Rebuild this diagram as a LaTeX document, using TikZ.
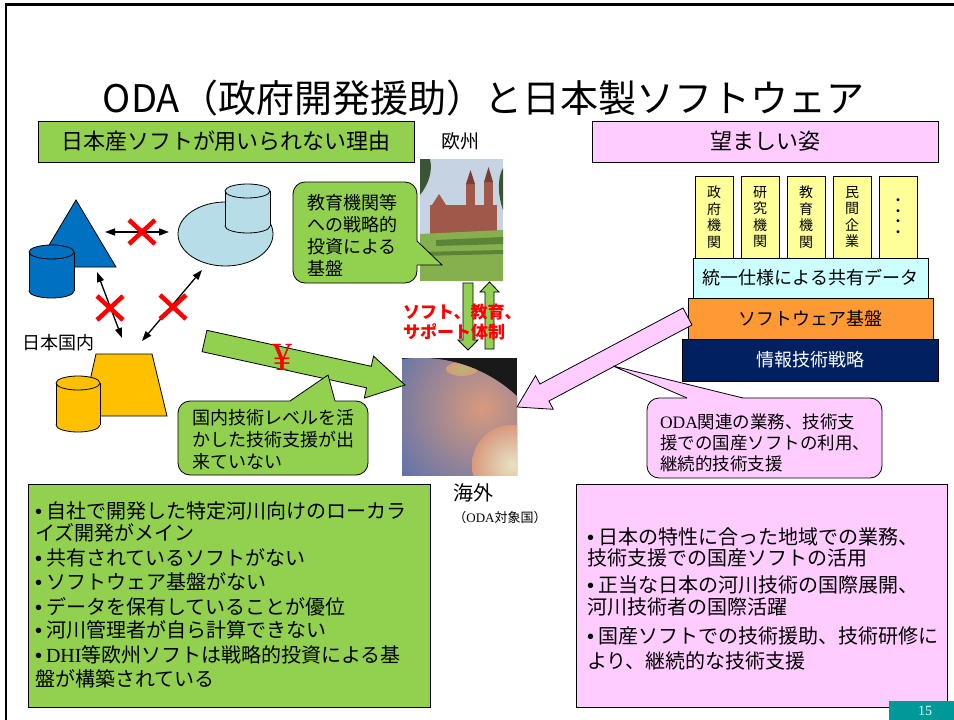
\documentclass[tikz,border=0pt]{standalone}
\usepackage{fontspec}
\setmainfont{Noto Sans CJK JP}
\newfontfamily\serifjp{Liberation Serif}
\newfontfamily\lsans{Liberation Sans}
\usetikzlibrary{arrows.meta}
\definecolor{gr}{HTML}{92D050}
\definecolor{pk}{HTML}{FFCCFF}
\definecolor{yl}{HTML}{FFFF99}
\definecolor{cy}{HTML}{CCFFFF}
\definecolor{orb}{HTML}{FF9933}
\definecolor{nv}{HTML}{002060}
\definecolor{bl}{HTML}{0070C0}
\definecolor{lblue}{HTML}{B7DEE8}
\definecolor{org}{HTML}{FFC000}
\definecolor{tl}{HTML}{009999}
\definecolor{sky}{HTML}{C5D3E2}
\definecolor{treed}{HTML}{3A5533}
\definecolor{brick}{HTML}{A0584A}
\definecolor{brickd}{HTML}{7A3E34}
\definecolor{lawn}{HTML}{86B04E}
\definecolor{hedge}{HTML}{5A8436}
\definecolor{sea}{HTML}{4E6DB0}
\definecolor{land}{HTML}{D89A7E}
\definecolor{pale}{HTML}{E8E2C4}
\definecolor{olive}{HTML}{B5B870}
\newcommand{\myfs}[2]{\fontsize{#1}{#2}\selectfont}
\newcommand{\bul}{{\lsans •}\kern4pt}
\newcommand{\mycyl}[6]{%
  \filldraw[ln, fill=#6] (#1,#4) ellipse [x radius=#2, y radius=#5];
  \fill[#6] (#1-#2,#3) rectangle (#1+#2,#4);
  \draw[ln] (#1-#2,#3) -- (#1-#2,#4) (#1+#2,#3) -- (#1+#2,#4);
  \filldraw[ln, fill=#6] (#1,#3) ellipse [x radius=#2, y radius=#5];
}
\tikzset{
  ln/.style={draw=black, line width=0.8pt},
  tx/.style={inner sep=0pt, outer sep=0pt},
  dbl/.style={line width=1.3pt, {Triangle[length=10pt,width=7pt]}-{Triangle[length=10pt,width=7pt]}},
  pics/redx/.style={code={\draw[red, line width=4.5pt] (-13,-12) -- (13,12) (-13,12) -- (13,-12);}},
  col/.style={tx, ln, fill=yl, minimum width=38pt, minimum height=82pt, align=center, font=\myfs{14}{16.5}},
  bline/.style={tx, anchor=base west, font=\myfs{20}{24}},
}
\begin{document}
\begin{tikzpicture}[x=1pt,y=-1pt]
\useasboundingbox (0,0) rectangle (954,720);
\fill[white] (0,0) rectangle (954,720);
% frame
\draw[line width=2.7pt] (5,4.7) -- (954,4.7);
\draw[line width=2.5pt] (6.2,3.4) -- (6.2,720);

% title
\node[tx] (title) at (483.5,98) {\myfs{38}{44}ODA（政府開発援助）と日本製ソフトウェア};

% headers
\node[tx, ln, fill=gr, minimum width=376pt, minimum height=41pt] (hl) at (226,141.5) {\myfs{22}{26}日本産ソフトが用いられない理由};
\node[tx, ln, fill=pk, minimum width=346pt, minimum height=41pt] (hr) at (765,141.5) {\myfs{22}{26}望ましい姿};
\node[tx] (eu) at (460,141) {\myfs{19}{22}欧州};

% left shapes
\filldraw[ln, fill=bl] (76,200) -- (116,267) -- (36,267) -- cycle;
\mycyl{51.5}{22.5}{252}{291}{7}{bl}
\filldraw[ln, fill=lblue] (225.5,234) ellipse [x radius=47.5, y radius=32];
\mycyl{247.5}{22.5}{191}{226}{7}{lblue}
\filldraw[ln, fill=org] (96,354) -- (152,354) -- (167,416) -- (82,416) -- cycle;
\mycyl{78}{22}{383}{425}{7}{org}

\coordinate (a1) at (105,232); \coordinate (a2) at (169,232);
\coordinate (b1) at (97,272);  \coordinate (b2) at (122,338);
\coordinate (c1) at (202,270); \coordinate (c2) at (142,341);
\draw[dbl] (a1) -- (a2);
\draw[dbl] (b1) -- (b2);
\draw[dbl] (c1) -- (c2);
\pic at (142,232) {redx};
\pic at (110,308) {redx};
\pic at (173,307) {redx};

\node[tx, anchor=west] (jp) at (22,343) {\myfs{18}{22}日本国内};

% Europe photo (stylised)
\begin{scope}
\clip (420,159) rectangle (503,281);
\fill[sky] (420,159) rectangle (503,281);
\fill[treed] (420,159) -- (430,159) .. controls (433,172) and (428,185) .. (420,195) -- cycle;
\fill[treed] (503,168) .. controls (497,178) and (498,196) .. (503,210) -- cycle;
\fill[brick] (430,205) rectangle (497,238);
\fill[brick] (432,205) -- (439,194) -- (446,205) -- cycle;
\fill[brick] (466,184) rectangle (475,238);
\fill[brick] (484,182) rectangle (493,238);
\fill[brickd] (466,184) -- (470.5,170) -- (475,184) -- cycle;
\fill[brickd] (484,182) -- (488.5,167) -- (493,182) -- cycle;
\fill[lawn] (420,234) -- (503,230) -- (503,281) -- (420,281) -- cycle;
\fill[hedge] (436,240) -- (503,237) -- (503,244) -- (436,246) -- cycle;
\fill[hedge] (420,252) -- (503,250) -- (503,254) -- (420,256) -- cycle;
\end{scope}
\node[tx, minimum width=83pt, minimum height=122pt] (europe) at (461.5,220) {};

% globe photo (stylised)
\begin{scope}
\clip (402,358) rectangle (517,475);
\fill[black!90] (402,358) rectangle (517,475);
\fill[sea] (420,500) circle (142);
\begin{scope}
\clip (420,500) circle (142);
\shade[inner color=land, outer color=sea] (482,408) circle (120);
\shade[inner color=pale, outer color=land] (512,465) circle (40);
\shade[inner color=olive, outer color=land] (462,369) ellipse [x radius=16, y radius=7];
\end{scope}
\end{scope}
\node[tx, minimum width=115pt, minimum height=117pt] (globe) at (459.5,416.5) {};

% vertical arrows between Europe and overseas
\filldraw[ln, fill=gr] (463,283) -- (473,283) -- (473,340) -- (478,340) -- (468,350) -- (458,340) -- (463,340) -- cycle;
\filldraw[ln, fill=gr] (485,349) -- (494,349) -- (494,292) -- (499,292) -- (489.5,282) -- (480,292) -- (485,292) -- cycle;
\node[tx, anchor=west, align=left, text=red, font=\myfs{17}{20}\bfseries] (sup) at (403,322) {ソフト、教育、\\サポート体制};

\node[tx] (ov) at (473,493) {\myfs{20}{22}海外};
\node[tx] (oda) at (500,518) {\myfs{13}{15}（{\serifjp ODA}対象国）};

% green arrow with yen
\filldraw[ln, fill=gr] (206.9,330.3) -- (371.3,366.3) -- (373.5,356.1) -- (405,385) -- (364.3,398.1) -- (366.5,387.8) -- (202.1,351.7) -- cycle;
\node[tx, text=red] (yen) at (282,357) {\serifjp\myfs{40}{42}¥};

% callout: Europe
\filldraw[ln, fill=gr, rounded corners=12pt] (293,182) rectangle (417,283);
\fill[gr] (415,241) -- (417,241) -- (442,265) -- (417,265) -- (415,265) -- cycle;
\draw[ln] (417,241) -- (442,265) -- (417,265);
\node[tx, align=left, anchor=west, font=\myfs{18}{22}] (co1) at (307,235) {教育機関等\\への戦略的\\投資による\\基盤};

% callout: domestic
\filldraw[ln, fill=gr, rounded corners=12pt] (178,401) rectangle (368,475);
\fill[gr] (290,403) -- (290,401) -- (328,375) -- (335,401) -- (335,403) -- cycle;
\draw[ln] (290,401) -- (328,375) -- (335,401);
\node[tx, align=left, anchor=west, font=\myfs{18}{22}] (co2) at (192,440) {国内技術レベルを活\\かした技術支援が出\\来ていない};

% right stack
\node[col] (k1) at (714,217) {政\\府\\機\\関};
\node[col] (k2) at (760,217) {研\\究\\機\\関};
\node[col] (k3) at (806,217) {教\\育\\機\\関};
\node[col] (k4) at (852,217) {民\\間\\企\\業};
\node[col, font=\lsans\bfseries\myfs{10}{10.5}] (k5) at (898,217) {•\\•\\•\\•};
\node[tx, ln, fill=cy, minimum width=235pt, minimum height=40pt] (sd) at (810.5,278) {\myfs{18}{20}統一仕様による共有データ};
\node[tx, ln, fill=orb, minimum width=245pt, minimum height=41pt] (sw) at (810.5,318.5) {\myfs{18}{20}ソフトウェア基盤};
\node[tx, ln, fill=nv, text=white, minimum width=256pt, minimum height=42pt] (st) at (810,360) {\myfs{18}{20}情報技術戦略};

% pink arrow
\filldraw[ln, fill=pk] (683.0,308.0) -- (539.9,384.0) -- (535.5,375.7) -- (517,407) -- (553.3,409.3) -- (548.9,401.0) -- (692.0,325.0) -- cycle;

% pink callout
\filldraw[ln, fill=pk, rounded corners=12pt] (647,398) rectangle (882,478);
\fill[pk] (687,400) -- (687,398) -- (613,366) -- (743,398) -- (743,400) -- cycle;
\draw[ln] (687,398) -- (613,366) -- (743,398);
\node[tx, align=left, anchor=west, font=\myfs{17.5}{21}] (co3) at (660,442.5) {{\serifjp ODA}関連の業務、技術支\\援での国産ソフトの利用、\\継続的技術支援};

% bottom boxes
\filldraw[ln, fill=gr] (28,484) rectangle (430,707);
\node[bline] (l1) at (35,518.5) {\bul 自社で開発した特定河川向けのローカラ};
\node[bline] (l2) at (35,540.5) {イズ開発がメイン};
\node[bline] (l3) at (35,565.5) {\bul 共有されているソフトがない};
\node[bline] (l4) at (35,589.5) {\bul ソフトウェア基盤がない};
\node[bline] (l5) at (35,614.5) {\bul データを保有していることが優位};
\node[bline] (l6) at (35,637.5) {\bul 河川管理者が自ら計算できない};
\node[bline] (l7) at (35,662.5) {\bul {\serifjp DHI}等欧州ソフトは戦略的投資による基};
\node[bline] (l8) at (35,686.5) {盤が構築されている};

\filldraw[ln, fill=pk] (576,484) rectangle (947,707);
\node[bline] (r1) at (587,544.5) {\bul 日本の特性に合った地域での業務、};
\node[bline] (r2) at (587,565.5) {技術支援での国産ソフトの活用};
\node[bline] (r3) at (587,592.5) {\bul 正当な日本の河川技術の国際展開、};
\node[bline] (r4) at (587,614.5) {河川技術者の国際活躍};
\node[bline] (r5) at (587,643.5) {\bul 国産ソフトでの技術援助、技術研修に};
\node[bline] (r6) at (587,668.5) {より、継続的な技術支援};

% page number
\fill[tl] (889,701) rectangle (954,720);
\node[tx, text=white] (pg) at (925,711) {\serifjp\myfs{14}{16}15};
\end{tikzpicture}
\end{document}
